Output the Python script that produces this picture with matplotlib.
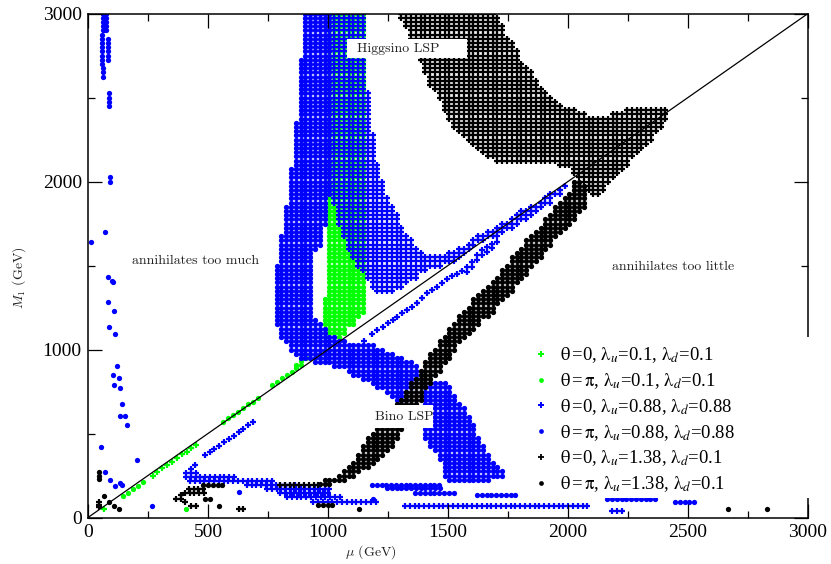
import numpy as np
import matplotlib
matplotlib.use("Agg")
import matplotlib.pyplot as plt
from matplotlib.lines import Line2D
from matplotlib.patches import Rectangle

plt.rcParams['font.family'] = ['Liberation Serif', 'DejaVu Serif']
plt.rcParams['mathtext.fontset'] = 'stix'

# the scan sits on a regular grid, so regions are kept as column extents
M1_ROWS = np.arange(3000, 0, -25)
MU_STEP = 20

# ----------- green, theta = pi ------------
green_pi_mu = [986, 1006, 1026, 1046, 1066, 1086, 1106, 1126, 1146]
green_pi_low = [1116, 1098, 1080, 1074, 1086, 1128, 1146, 1199, 1223]
green_pi_high = [1324, 3000, 3000, 3000, 3000, 3000, 3000, 3000, 3000]
green_pi_x = [147, 168, 188, 207, 228, 408, 564, 585, 605, 626, 647, 668, 686, 707,
              765, 786, 807, 828, 849, 867, 867, 886, 886, 908]
green_pi_y = [130, 148, 168, 189, 209, 49, 570, 590, 610, 630, 653, 674, 689, 709,
              788, 808, 828, 848, 868, 888, 907, 907, 933, 947]

# ----------- green, theta = 0 ------------
green_0_x = [68, 270, 289, 310, 330, 350, 371, 390, 411, 430, 450]
green_0_y = [49, 247, 271, 293, 313, 332, 352, 376, 392, 412, 431]

# ----------- blue, theta = 0 ------------
blue_0_mu = [1026, 1046, 1066, 1086, 1106, 1126, 1146, 1166, 1186, 1206, 1226, 1246, 1266,
             1286, 1306, 1326, 1346, 1366, 1386, 1406, 1426, 1446, 1466, 1486, 1506, 1526,
             1546, 1566, 1586, 1606, 1626, 1646, 1666, 1686, 1706, 1726, 1746, 1766, 1786,
             1806, 1826, 1846, 1866, 1886, 1906, 1926, 1946, 1966, 1986]
blue_0_low = [1860, 1741, 1652, 1592, 1544, 1497, 1455, 1413, 1366, 1342, 1342, 1342, 1342,
              1354, 1366, 1384, 1402, 1425, 1455, 1473, 1485, 1485, 1497, 1503, 1509, 1521,
              1544, 1568, 1592, 1610, 1628, 1646, 1663, 1675, 1675, 1693, 1705, 1717, 1729,
              1753, 1771, 1794, 1812, 1836, 1854, 1872, 1901, 1925, 1961]
blue_0_high = [3000, 3000, 3000, 3000, 3000, 3000, 3000, 2544, 2276, 2116, 2021, 1919, 1860,
               1800, 1741, 1681, 1652, 1622, 1592, 1574, 1574, 1574, 1568, 1562, 1580, 1592,
               1604, 1622, 1634, 1663, 1681, 1693, 1705, 1711, 1741, 1759, 1771, 1794, 1812,
               1830, 1842, 1860, 1872, 1890, 1907, 1925, 1937, 1961, 1979]
blue_0_x = [428, 446, 488, 507, 526, 547, 567, 588, 607, 628, 647, 668, 689,
            1150, 1182, 1205, 1228, 1249, 1270, 1289, 1308, 1328, 1349, 1370, 1391, 1411,
            1432, 1453, 1474, 1495, 1516, 1537, 1558, 1579, 1579, 1600, 1600, 1621, 1621,
            1642, 1642, 1663, 1663, 1684, 1684, 1705]
blue_0_y = [287, 312, 370, 390, 408, 427, 448, 467, 487, 507, 527, 549, 570,
            1052, 1092, 1116, 1136, 1156, 1176, 1195, 1215, 1235, 1254, 1274, 1304, 1334,
            1354, 1373, 1393, 1420, 1437, 1452, 1470, 1490, 1460, 1520, 1490, 1562, 1530,
            1590, 1560, 1610, 1582, 1630, 1602, 1641]
blue_0_row = [265, 241, 217, 193, 170, 146, 122, 92, 70, 36]
blue_0_row_start = [408, 408, 425, 662, 746, 800, 829, 938, 1321, 2183]
blue_0_row_end = [467, 625, 771, 875, 1008, 1008, 1050, 1217, 2092, 2238]

# ----------- blue, theta = pi ------------
blue_pi_mu = [786, 806, 826, 846, 866, 886, 906, 926, 946, 946, 966, 966, 986, 986, 1006, 1006,
              1026, 1046, 1066, 1086, 1106, 1126, 1146, 1166, 1186, 1206, 1226, 1246, 1266,
              1286, 1306, 1326, 1346, 1366,
              1406, 1426, 1446, 1466, 1486, 1506, 1526, 1546, 1566, 1586, 1606, 1626, 1646,
              1666, 1686, 1706, 1726,
              57, 62, 68, 75, 63, 82, 87, 93, 72]
blue_pi_low = [1128, 1056, 1027, 997, 967, 949, 937, 931, 1592, 925, 1604, 913, 1747, 908, 1913, 902,
               896, 890, 878, 860, 848, 830, 818, 806, 788, 771, 759, 741, 717,
               687, 681, 699, 759, 818,
               461, 420, 378, 336, 235, 205, 205, 205, 205, 211, 211, 211, 211,
               223, 235, 247, 247,
               2681, 2884, 2884, 2884, 2616, 2711, 2443, 1979, 1693]
blue_pi_high = [1521, 1681, 1866, 2080, 2366, 2741, 3000, 3000, 3000, 1176, 3000, 1158, 3000, 1134, 3000, 1098,
                1080, 1074, 1056, 1044, 1044, 1038, 1032, 1027, 1027, 1015, 1009, 997, 985,
                973, 961, 949, 925, 908,
                788, 800, 812, 818, 812, 788, 747, 699, 669, 610, 550, 491, 431,
                384, 342, 312, 288,
                2890, 3000, 3000, 3000, 2675, 2860, 2544, 2044, 1723]
blue_pi_x = [13, 53, 122, 103, 128, 108, 133, 142, 133, 154, 162, 203, 72, 93, 113, 133, 142, 268, 628,
             82, 102, 103, 82, 107, 88, 113, 1188]
blue_pi_y = [1640, 421, 902, 846, 830, 790, 772, 677, 606, 606, 549, 340, 269, 221, 189, 203, 195, 70, 150,
             1429, 1405, 1400, 1284, 1231, 1132, 1090, 110]
blue_pi_row = [193, 175, 147, 134, 110, 92]
blue_pi_row_start = [1183, 1246, 1363, 1621, 2163, 2446]
blue_pi_row_end = [1467, 1467, 1538, 1800, 2375, 2538]

# ----------- black, theta = 0 ------------
black_0_mu = [1306, 1326, 1346, 1366, 1386, 1406, 1426, 1446, 1466, 1486, 1506, 1526, 1546, 1566,
              1586, 1606, 1626, 1646, 1666, 1686, 1706, 1726, 1746, 1766, 1786, 1806, 1826, 1846,
              1866, 1886, 1906, 1926, 1946, 1966, 1986, 2006, 2026, 2046, 2066, 2086, 2106, 2126,
              2146, 2166, 2186, 2206, 2226, 2246, 2266, 2286, 2306, 2326, 2346, 2366, 2386, 2406]
black_0_low = [2973, 2913, 2812, 2753, 2705, 2646, 2574, 2527, 2485, 2425, 2366, 2318, 2283, 2259,
               2229, 2205, 2181, 2163, 2146, 2128, 2116, 2110, 2104, 2104, 2104, 2104, 2104, 2104,
               2104, 2104, 2104, 2104, 2104, 2080, 2080, 2080, 2039, 2021, 1979, 1949, 1920, 1908,
               1949, 1979, 2009, 2039, 2068, 2098, 2128, 2152, 2187, 2211, 2241, 2277, 2318, 2366]
black_0_high = [3000, 3000, 3000, 3000, 3000, 3000, 3000, 3000, 3000, 3000, 3000, 3000, 3000, 3000,
                3000, 3000, 3000, 3000, 3000, 3000, 2985, 2931, 2872, 2842, 2783, 2723, 2687, 2652,
                2616, 2574, 2533, 2503, 2479, 2461, 2449, 2441, 2425, 2414, 2408, 2396, 2396, 2396,
                2396, 2396, 2408, 2414, 2420, 2425, 2441, 2441, 2441, 2441, 2441, 2441, 2441, 2441]
black_0_x = [47, 47, 47, 365, 386, 386, 403, 428, 449, 628, 647]
black_0_y = [94, 77, 60, 110, 110, 134, 90, 70, 70, 50, 50]
black_0_row = [193, 168, 147]
black_0_row_start = [800, 420, 403]
black_0_row_end = [966, 483, 483]

# ----------- black, theta = pi ------------
black_pi_mu = [966, 986, 1006, 1026, 1046, 1066, 1086, 1106, 1126, 1146, 1166, 1186, 1206, 1226,
               1246, 1266, 1286, 1306, 1326, 1346, 1366, 1386, 1406, 1426, 1446, 1466, 1486, 1506,
               1526, 1546, 1566, 1586, 1606, 1626, 1646, 1666, 1686, 1706, 1726, 1746, 1766, 1786,
               1806, 1826, 1846, 1866, 1886, 1906, 1926, 1946, 1966, 1986, 2006, 2026, 2046, 2066]
black_pi_low = [199, 199, 199, 205, 217, 223, 235, 247, 265, 277, 295, 318, 348, 372,
                396, 420, 461, 509, 550, 598, 646, 687, 759, 794, 830, 854, 901, 949,
                997, 1027, 1056, 1086, 1122, 1146, 1176, 1199, 1223, 1259, 1288, 1318, 1348, 1378,
                1413, 1443, 1479, 1509, 1538, 1580, 1610, 1652, 1681, 1711, 1735, 1771, 1806, 1842]
black_pi_high = [223, 229, 235, 247, 259, 283, 307, 342, 390, 438, 479, 509, 539, 574,
                 610, 652, 681, 717, 753, 800, 842, 890, 931, 979, 1009, 1050, 1092, 1134,
                 1163, 1205, 1235, 1271, 1306, 1336, 1366, 1390, 1413, 1449, 1479, 1515, 1550, 1580,
                 1616, 1652, 1687, 1723, 1747, 1782, 1818, 1854, 1884, 1913, 1949, 2021, 2021, 1979]
black_pi_x = [47, 47, 47, 68, 89, 108, 128, 488, 509, 547, 958, 978, 998, 1017, 1128, 2668, 2828]
black_pi_y = [272, 248, 229, 130, 90, 70, 50, 110, 110, 70, 73, 73, 73, 73, 50, 50, 50]
black_pi_row = [193]
black_pi_row_start = [480]
black_pi_row_end = [571]

legend_labels = [
    r"$\mathrm{\theta}\,$=0, $\mathrm{\lambda}_u$=0.1, $\mathrm{\lambda}_d$=0.1",
    r"$\mathrm{\theta}\,$=$\,\mathrm{\pi}$, $\mathrm{\lambda}_u$=0.1, $\mathrm{\lambda}_d$=0.1",
    r"$\mathrm{\theta}\,$=0, $\mathrm{\lambda}_u$=0.88, $\mathrm{\lambda}_d$=0.88",
    r"$\mathrm{\theta}\,$=$\,\mathrm{\pi}$, $\mathrm{\lambda}_u$=0.88, $\mathrm{\lambda}_d$=0.88",
    r"$\mathrm{\theta}\,$=0, $\mathrm{\lambda}_u$=1.38, $\mathrm{\lambda}_d$=0.1",
    r"$\mathrm{\theta}\,$=$\,\mathrm{\pi}$, $\mathrm{\lambda}_u$=1.38, $\mathrm{\lambda}_d$=0.1",
]
GREEN = "#00ff00"
BLUE = "#0000ff"
BLACK = "#000000"


# ----------- EXPAND REGIONS ONTO THE SCAN GRID ------------
def from_columns(mus, lows, highs):
    xs, ys = [], []
    for mu, low, high in zip(mus, lows, highs):
        rows = M1_ROWS[(M1_ROWS >= low) & (M1_ROWS <= high)]
        xs.extend([mu] * len(rows))
        ys.extend(rows)
    return xs, ys


def from_rows(rows, starts, ends):
    xs, ys = [], []
    for row, start, end in zip(rows, starts, ends):
        mus = np.arange(start, end + 1, MU_STEP)
        xs.extend(mus)
        ys.extend([row] * len(mus))
    return xs, ys


def plus(ax, x, y, color, zorder):
    ax.plot(x, y, ls="none", marker="+", ms=4.6, mew=1.6, color=color, zorder=zorder)


def dot(ax, x, y, color, zorder):
    ax.plot(x, y, ls="none", marker="o", ms=3.8, mew=0, color=color, zorder=zorder)


# ----------- PLOT ------------
fig = plt.figure(figsize=(8.31, 5.64), dpi=100)
ax = fig.add_axes([88 / 831, (564 - 517.5) / 564, 720 / 831, 504 / 564])

gx, gy = from_columns(green_pi_mu, green_pi_low, green_pi_high)
dot(ax, gx + green_pi_x, gy + green_pi_y, GREEN, 1.0)
plus(ax, green_0_x, green_0_y, GREEN, 1.1)

bx, by = from_columns(blue_0_mu, blue_0_low, blue_0_high)
rx, ry = from_rows(blue_0_row, blue_0_row_start, blue_0_row_end)
plus(ax, bx + rx + blue_0_x, by + ry + blue_0_y, BLUE, 1.2)

bx, by = from_columns(blue_pi_mu, blue_pi_low, blue_pi_high)
rx, ry = from_rows(blue_pi_row, blue_pi_row_start, blue_pi_row_end)
dot(ax, bx + rx + blue_pi_x, by + ry + blue_pi_y, BLUE, 1.3)

ax.plot([0, 3000], [0, 3000], color="black", lw=0.9, zorder=1.4)

kx, ky = from_columns(black_0_mu, black_0_low, black_0_high)
rx, ry = from_rows(black_0_row, black_0_row_start, black_0_row_end)
plus(ax, kx + rx + black_0_x, ky + ry + black_0_y, BLACK, 1.5)

kx, ky = from_columns(black_pi_mu, black_pi_low, black_pi_high)
rx, ry = from_rows(black_pi_row, black_pi_row_start, black_pi_row_end)
dot(ax, kx + rx + black_pi_x, ky + ry + black_pi_y, BLACK, 1.6)

ax.set_xlim(0, 3000)
ax.set_ylim(0, 3000)
ax.set_xticks(np.arange(0, 3001, 500))
ax.set_xticks(np.arange(0, 3001, 250), minor=True)
ax.set_yticks(np.arange(0, 3001, 1000))
ax.set_yticks(np.arange(0, 3001, 500), minor=True)
ax.tick_params(which="major", direction="in", length=10, width=0.9, top=True, right=True, labelsize=14, pad=4.5)
ax.tick_params(which="minor", direction="in", length=5, width=0.9, top=True, right=True)
for spine in ax.spines.values():
    spine.set_linewidth(1.1)

# text in computer modern, as in the original
cm = dict(family="cmr10", math_fontfamily="cm")
ax.set_xlabel(r"$\mu$ (GeV)", fontsize=10, color="#222222", **cm)
ax.set_ylabel(r"$M_1$ (GeV)", fontsize=10, color="#222222", **cm)
ax.xaxis.set_label_coords(0.393, -0.051)
ax.yaxis.set_label_coords(-0.083, 0.475)

ax.add_patch(Rectangle((1079, 2733), 500, 113, facecolor="white", edgecolor="none", zorder=2))
ax.add_patch(Rectangle((1188, 533), 250, 137, facecolor="white", edgecolor="none", zorder=2))
ax.text(1120, 2790, "Higgsino LSP", fontsize=10, va="center", color="#222222", zorder=3, **cm)
ax.text(1197, 600, "Bino LSP", fontsize=10, va="center", color="#222222", zorder=3, **cm)
ax.text(185, 1525, "annihilates too much", fontsize=10, va="center", color="#222222", **cm)
ax.text(2183, 1490, "annihilates too little", fontsize=10, va="center", color="#222222", **cm)

# the white legend box also hides part of the right frame
ax.add_patch(Rectangle((0.60, 0.0387), 0.42, 0.3185, transform=ax.transAxes, facecolor="white",
                       edgecolor="none", clip_on=False, zorder=4))
handles = [Line2D([], [], ls="none", marker=m, color=c, ms=s, mew=w) for m, c, s, w in
           [("+", GREEN, 4.3, 1.4), ("o", GREEN, 3.4, 0), ("+", BLUE, 4.3, 1.4),
            ("o", BLUE, 3.4, 0), ("+", BLACK, 4.0, 1.3), ("o", BLACK, 3.4, 0)]]
ax.legend(handles, legend_labels, loc="lower left", bbox_to_anchor=(0.595, 0.02), frameon=False,
          fontsize=13.5, handletextpad=0.45, labelspacing=0.32, handlelength=1.2, borderpad=0.2)

fig.savefig("out.png", dpi=100)
